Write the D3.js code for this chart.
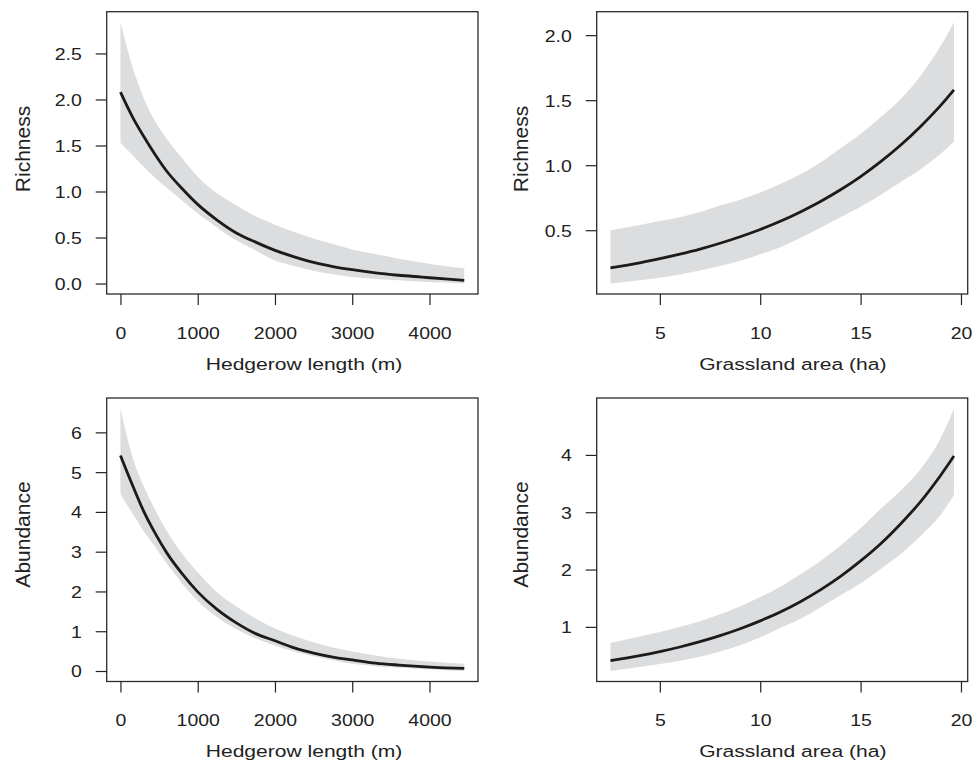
<!DOCTYPE html>
<html>
<head>
<meta charset="utf-8">
<script src="https://cdnjs.cloudflare.com/ajax/libs/d3/7.8.5/d3.min.js"></script>
<style>
  body { margin: 0; background: #fff; }
  svg { display: block; font-family: "Liberation Sans", Arial, sans-serif; }
</style>
</head>
<body>
<div id="chart"></div>
<script>
// hedgerow length (m) and predictions
const hedgeLength = [0, 150, 300, 450, 600, 800, 1000, 1250, 1500, 1750, 2000, 2250, 2500, 2750, 3000, 3300, 3600, 3900, 4200, 4450];
const hedgeRichness     = [2.08, 1.82, 1.60, 1.40, 1.22, 1.03, 0.86, 0.69, 0.55, 0.45, 0.36, 0.29, 0.23, 0.185, 0.15, 0.115, 0.09, 0.07, 0.05, 0.035];
const hedgeRichnessLow  = [1.53, 1.40, 1.27, 1.15, 1.04, 0.90, 0.76, 0.61, 0.47, 0.36, 0.25, 0.19, 0.14, 0.10, 0.07, 0.05, 0.035, 0.02, 0.01, 0.0];
const hedgeRichnessHigh = [2.84, 2.37, 2.02, 1.76, 1.57, 1.36, 1.16, 0.98, 0.85, 0.73, 0.64, 0.56, 0.49, 0.43, 0.37, 0.32, 0.27, 0.23, 0.19, 0.165];

const hedgeAbundance     = [5.42, 4.70, 4.02, 3.46, 2.97, 2.44, 1.99, 1.55, 1.21, 0.94, 0.76, 0.58, 0.45, 0.35, 0.28, 0.20, 0.15, 0.11, 0.08, 0.065];
const hedgeAbundanceLow  = [4.45, 3.98, 3.52, 3.12, 2.70, 2.20, 1.76, 1.35, 1.05, 0.82, 0.64, 0.49, 0.37, 0.27, 0.18, 0.12, 0.08, 0.05, 0.02, 0.0];
const hedgeAbundanceHigh = [6.60, 5.42, 4.65, 4.05, 3.52, 2.95, 2.48, 1.98, 1.62, 1.32, 1.07, 0.88, 0.72, 0.59, 0.49, 0.39, 0.31, 0.25, 0.21, 0.18];

// grassland area (ha)
const grassArea = [2.54, 4, 5, 6, 7, 8, 9, 10, 11, 12, 13, 14, 15, 16, 17, 18, 19, 19.65];
const grassRichness     = [0.21, 0.249, 0.281, 0.316, 0.355, 0.400, 0.450, 0.506, 0.569, 0.641, 0.721, 0.811, 0.912, 1.027, 1.155, 1.300, 1.462, 1.58];
const grassRichnessLow  = [0.09, 0.115, 0.135, 0.16, 0.19, 0.225, 0.265, 0.315, 0.37, 0.44, 0.52, 0.60, 0.68, 0.77, 0.87, 0.97, 1.09, 1.18];
const grassRichnessHigh = [0.50, 0.54, 0.57, 0.60, 0.64, 0.69, 0.735, 0.79, 0.855, 0.93, 1.02, 1.13, 1.24, 1.37, 1.51, 1.69, 1.92, 2.10];

const grassAbundance     = [0.41, 0.498, 0.568, 0.649, 0.741, 0.847, 0.967, 1.105, 1.26, 1.44, 1.645, 1.88, 2.15, 2.45, 2.80, 3.19, 3.65, 3.98];
const grassAbundanceLow  = [0.23, 0.30, 0.35, 0.41, 0.48, 0.57, 0.68, 0.82, 0.98, 1.14, 1.34, 1.55, 1.76, 2.01, 2.27, 2.59, 2.96, 3.30];
const grassAbundanceHigh = [0.72, 0.83, 0.91, 1.00, 1.10, 1.22, 1.36, 1.52, 1.70, 1.92, 2.15, 2.42, 2.72, 3.06, 3.38, 3.76, 4.30, 4.81];

// tick labels
const hedgeTicks = [0, 1000, 2000, 3000, 4000];
const grassTicks = [5, 10, 15, 20];
const richHedgeTicks = [0, 0.5, 1, 1.5, 2, 2.5];
const richGrassTicks = [0.5, 1, 1.5, 2];
const abunHedgeTicks = [0, 1, 2, 3, 4, 5, 6];
const abunGrassTicks = [1, 2, 3, 4];

const width = 973;
const height = 763;

const cols = [
  { left: 106.7, right: 478, yTitleX: 30, xTitleX: 304 },
  { left: 596.7, right: 967.7, yTitleX: 528.3, xTitleX: 792.8 }
];
const rows = [
  { top: 11.7, bottom: 294, yTitleY: 149 },
  { top: 398, bottom: 681.5, yTitleY: 534.5 }
];

const panels = [
  { col: 0, row: 0, x: hedgeLength, mean: hedgeRichness, low: hedgeRichnessLow, high: hedgeRichnessHigh,
    xTicks: hedgeTicks, yTicks: richHedgeTicks, yFmt: ".1f", xlab: "Hedgerow length (m)", ylab: "Richness" },
  { col: 1, row: 0, x: grassArea, mean: grassRichness, low: grassRichnessLow, high: grassRichnessHigh,
    xTicks: grassTicks, yTicks: richGrassTicks, yFmt: ".1f", xlab: "Grassland area (ha)", ylab: "Richness" },
  { col: 0, row: 1, x: hedgeLength, mean: hedgeAbundance, low: hedgeAbundanceLow, high: hedgeAbundanceHigh,
    xTicks: hedgeTicks, yTicks: abunHedgeTicks, yFmt: "d", xlab: "Hedgerow length (m)", ylab: "Abundance" },
  { col: 1, row: 1, x: grassArea, mean: grassAbundance, low: grassAbundanceLow, high: grassAbundanceHigh,
    xTicks: grassTicks, yTicks: abunGrassTicks, yFmt: "d", xlab: "Grassland area (ha)", ylab: "Abundance" }
];

const textColor = "#222";
const tickScale = 1.18;   // tick labels are wider than plain Arial
const titleScale = 1.24;

const svg = d3.select("#chart").append("svg")
  .attr("width", width)
  .attr("height", height);

// R style axis limits: data range plus 4% each side
function padded(lo, hi) {
  const pad = (hi - lo) * 0.04;
  return [lo - pad, hi + pad];
}

function drawPanel(p) {
  const c = cols[p.col];
  const r = rows[p.row];

  const xScale = d3.scaleLinear()
    .domain(padded(d3.min(p.x), d3.max(p.x)))
    .range([c.left, c.right]);

  const yScale = d3.scaleLinear()
    .domain(padded(d3.min(p.low), d3.max(p.high)))
    .range([r.bottom, r.top]);

  const g = svg.append("g");

  const band = d3.area()
    .x((d, i) => xScale(p.x[i]))
    .y0((d, i) => yScale(p.low[i]))
    .y1((d, i) => yScale(p.high[i]))
    .curve(d3.curveMonotoneX);

  g.append("path")
    .datum(p.x)
    .attr("fill", "#dcdddf")
    .attr("d", band);

  const line = d3.line()
    .x((d, i) => xScale(p.x[i]))
    .y((d, i) => yScale(p.mean[i]))
    .curve(d3.curveMonotoneX);

  g.append("path")
    .datum(p.x)
    .attr("fill", "none")
    .attr("stroke", "#1b1b1b")
    .attr("stroke-width", 2.8)
    .attr("stroke-linejoin", "round")
    .attr("d", line);

  g.append("rect")
    .attr("x", c.left)
    .attr("y", r.top)
    .attr("width", c.right - c.left)
    .attr("height", r.bottom - r.top)
    .attr("fill", "none")
    .attr("stroke", "#2a2a2a")
    .attr("stroke-width", 1.3);

  // bottom axis
  const xAxis = d3.axisBottom(xScale)
    .tickValues(p.xTicks)
    .tickSize(11)
    .tickFormat(d3.format("d"));

  const gx = g.append("g")
    .attr("transform", "translate(0," + r.bottom + ")")
    .call(xAxis);
  gx.select(".domain").remove();
  gx.attr("font-size", null).attr("font-family", null).attr("color", textColor);
  gx.selectAll("line").attr("stroke-width", 1.2);
  gx.selectAll("text")
    .attr("y", 45)
    .attr("dy", null)
    .attr("font-size", 16.5)
    .attr("transform", "scale(" + tickScale + ",1)");

  // left axis
  const yAxis = d3.axisLeft(yScale)
    .tickValues(p.yTicks)
    .tickSize(11)
    .tickFormat(d3.format(p.yFmt));

  const gy = g.append("g")
    .attr("transform", "translate(" + c.left + ",0)")
    .call(yAxis);
  gy.select(".domain").remove();
  gy.attr("font-size", null).attr("font-family", null).attr("color", textColor);
  gy.selectAll("line").attr("stroke-width", 1.2);
  gy.selectAll("text")
    .attr("x", -25 / tickScale)
    .attr("dy", "0.36em")
    .attr("font-size", 16.5)
    .attr("transform", "scale(" + tickScale + ",1)");

  // titles
  g.append("text")
    .attr("transform", "translate(" + c.xTitleX + "," + (r.bottom + 75.5) + ") scale(" + titleScale + ",1)")
    .attr("text-anchor", "middle")
    .attr("font-size", 17)
    .attr("fill", textColor)
    .text(p.xlab);

  g.append("text")
    .attr("transform", "translate(" + c.yTitleX + "," + r.yTitleY + ") rotate(-90)")
    .attr("text-anchor", "middle")
    .attr("font-size", 21)
    .attr("fill", textColor)
    .text(p.ylab);
}

panels.forEach(drawPanel);
</script>
</body>
</html>
